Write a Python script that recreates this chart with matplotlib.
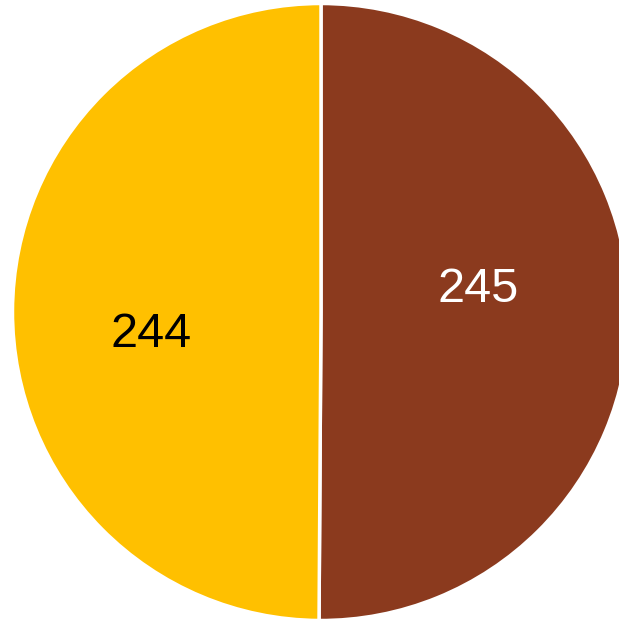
import numpy as np
import matplotlib.pyplot as plt

values = [245, 244]
colors = ['#8B3A1E', '#FFC000']
label_colors = ['white', 'black']

fig = plt.figure(figsize=(6.19, 6.21), dpi=100)
ax = fig.add_axes([0, 0, 1, 1])

wedges, _ = ax.pie(values, colors=colors, startangle=90, counterclock=False,
                   radius=1.0, wedgeprops=dict(edgecolor='white', linewidth=2.5))

# value labels, nudged a little off the wedge bisector
for w, v, c in zip(wedges, values, label_colors):
    mid = np.deg2rad((w.theta1 + w.theta2) / 2 + 8)
    r = 0.535
    ax.text(r * np.cos(mid) - 0.02, r * np.sin(mid), str(v), color=c,
            fontsize=35, family='Liberation Sans', ha='center', va='center')

# pie is a little larger than the canvas on the right
scale = 308.5
cx, cy = 321.0, 312.0
ax.set_xlim(-cx / scale, (619 - cx) / scale)
ax.set_ylim(-(621 - cy) / scale, cy / scale)
ax.set_aspect('auto')
ax.axis('off')

fig.savefig('out.png', dpi=100)
